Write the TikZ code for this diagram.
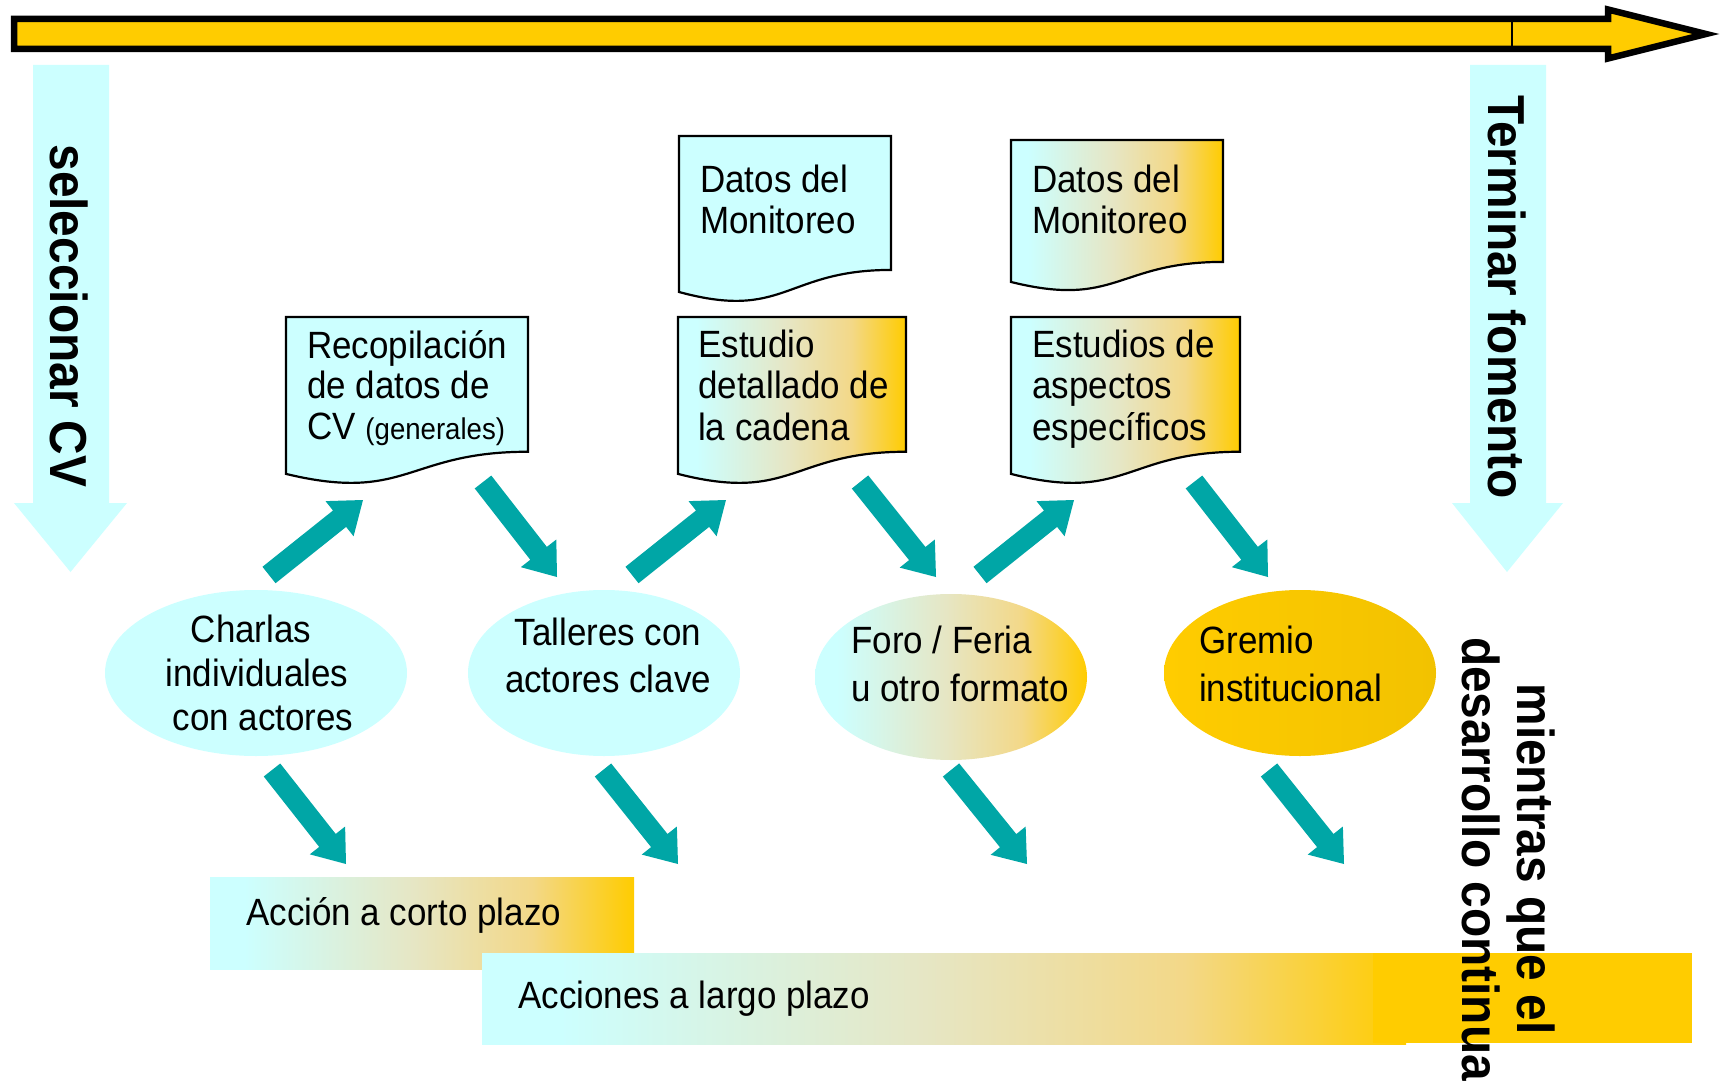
\documentclass[tikz,border=0pt]{standalone}
\usepackage{fontspec}
\newfontfamily\nar{Liberation Sans}[FakeStretch=0.92]
\usetikzlibrary{calc,shapes.geometric}
\definecolor{cy}{RGB}{204,255,255}
\definecolor{orc}{RGB}{255,204,0}
\definecolor{midc}{RGB}{230,230,196}
\definecolor{midd}{RGB}{243,216,136}
\definecolor{tealc}{RGB}{0,166,166}
\definecolor{goldr}{RGB}{242,194,0}
\pgfdeclarehorizontalshading{cygold}{100bp}{color(0bp)=(cy); color(25bp)=(cy); color(29bp)=(cy); color(49bp)=(midc); color(63bp)=(midd); color(75bp)=(orc); color(100bp)=(orc)}
\tikzset{
  docline/.style={draw=black, line width=2.2pt},
  grad/.style={shading=cygold},
  ell/.style={ellipse, draw=none, inner sep=0pt, outer sep=0pt},
  lbl/.style={font=\nar\fontsize{38}{40}\selectfont, inner sep=0pt, text=black},
  big/.style={font=\nar\bfseries\fontsize{52}{55}\selectfont, inner sep=0pt, rotate=-90, anchor=base, text=black}
}
\newcommand{\docshape}[5]{%
  \pgfmathsetmacro{\dm}{(#1+#2)/2}%
  \pgfmathsetmacro{\dya}{#3+0.802*#4}%
  \pgfmathsetmacro{\dyb}{#3+1.1075*#4}%
  \pgfmathsetmacro{\dyc}{#3+0.934*#4}%
  \draw[docline,#5] (#1,#3) -- (#2,#3) -- (#2,\dya) .. controls (\dm,\dya) and (\dm,\dyb) .. (#1,\dyc) -- cycle;}
\newcommand{\tarrow}[2]{%
  \coordinate (hb) at ($(#2)!30pt!(#1)$);
  \fill[tealc] ($(#1)!10.5pt!90:(#2)$) -- ($(hb)!10.5pt!90:(#2)$) -- ($(hb)!22.5pt!90:(#2)$) -- (#2)
     -- ($(hb)!22.5pt!-90:(#2)$) -- ($(hb)!10.5pt!-90:(#2)$) -- ($(#1)!10.5pt!-90:(#2)$) -- cycle;}
\begin{document}
\begin{tikzpicture}[x=1pt,y=-1pt]
\useasboundingbox (0,0) rectangle (1725,1081);
\fill[white] (0,0) rectangle (1725,1081);

% top timeline arrow
\draw[line width=6.5pt, fill=orc, line join=miter] (14,19) -- (1608,19) -- (1608,9.5) -- (1706,34) -- (1608,58.5) -- (1608,49) -- (14,49) -- cycle;
\draw[line width=2pt] (1512,21) -- (1512,47);

% vertical cyan arrows
\fill[cy] (33,65) -- (109,65) -- (109,503) -- (127,503) -- (70.5,572) -- (14,503) -- (33,503) -- cycle;
\fill[cy] (1470,65) -- (1546,65) -- (1546,503) -- (1563,503) -- (1507,572) -- (1452,503) -- (1470,503) -- cycle;
\node[big] (sel) at (50,316) {seleccionar CV};
\node[big] (term) at (1488,297) {Terminar fomento};

% documents
\docshape{286}{528}{317}{168}{fill=cy}
\docshape{679}{891}{136}{167}{fill=cy}
\docshape{1011}{1223}{140}{152}{grad}
\docshape{678}{906}{317}{168}{grad}
\docshape{1011}{1240}{317}{168}{grad}

\node[lbl, anchor=base west] (d1t) at (307,358) {\vtop{\baselineskip=40.7pt\hbox{Recopilación}\hbox{de datos de}\hbox{CV {\fontsize{30}{30}\selectfont(generales)}}}};
\node[lbl, anchor=base west] (d2t) at (700,192) {\vtop{\baselineskip=41pt\hbox{Datos del}\hbox{Monitoreo}}};
\node[lbl, anchor=base west] (d3t) at (1032,192) {\vtop{\baselineskip=41pt\hbox{Datos del}\hbox{Monitoreo}}};
\node[lbl, anchor=base west] (d4t) at (698,357) {\vtop{\baselineskip=41.5pt\hbox{Estudio}\hbox{detallado de}\hbox{la cadena}}};
\node[lbl, anchor=base west] (d5t) at (1032,357) {\vtop{\baselineskip=41.5pt\hbox{Estudios de}\hbox{aspectos}\hbox{específicos}}};

% ellipses
\node[ell, fill=cy, minimum width=302pt, minimum height=166pt] (e1) at (256,673) {};
\node[ell, fill=cy, minimum width=272pt, minimum height=166pt] (e2) at (604,673) {};
\node[ell, grad, minimum width=272pt, minimum height=166pt] (e3) at (951,677) {};
\node[ell, left color=orc, right color=goldr, minimum width=272pt, minimum height=166pt] (e4) at (1300,673) {};

\node[lbl, anchor=base] (t1) at (257,642) {\vtop{\baselineskip=44pt\hbox to 0pt{\hss Charlas\kern12pt\hss}\hbox to 0pt{\hss individuales\hss}\hbox to 0pt{\hss\kern12pt con actores\hss}}};
\node[lbl, anchor=base] (t2) at (608,645) {\vtop{\baselineskip=47pt\hbox to 0pt{\hss Talleres con\hss}\hbox to 0pt{\hss actores clave\hss}}};
\node[lbl, anchor=base west] (t3) at (851,653) {\vtop{\baselineskip=48pt\hbox{Foro / Feria}\hbox{u otro formato}}};
\node[lbl, anchor=base west] (t4) at (1199,653) {\vtop{\baselineskip=48pt\hbox{Gremio}\hbox{institucional}}};

% teal arrows
\coordinate (a1s) at (269,575);  \coordinate (a1e) at (363,500);
\coordinate (a2s) at (483,482);  \coordinate (a2e) at (557,577);
\coordinate (a3s) at (632,575);  \coordinate (a3e) at (726,500);
\coordinate (a4s) at (272,770);  \coordinate (a4e) at (346,864);
\coordinate (a5s) at (603,770);  \coordinate (a5e) at (678,864);
\coordinate (a6s) at (860,482);  \coordinate (a6e) at (936,577);
\coordinate (a7s) at (980,575);  \coordinate (a7e) at (1074,500);
\coordinate (a8s) at (1194,482); \coordinate (a8e) at (1268,577);
\coordinate (a9s) at (951,770);  \coordinate (a9e) at (1027,864);
\coordinate (a10s) at (1269,770); \coordinate (a10e) at (1344,864);
\tarrow{a1s}{a1e}
\tarrow{a2s}{a2e}
\tarrow{a3s}{a3e}
\tarrow{a4s}{a4e}
\tarrow{a5s}{a5e}
\tarrow{a6s}{a6e}
\tarrow{a7s}{a7e}
\tarrow{a8s}{a8e}
\tarrow{a9s}{a9e}
\tarrow{a10s}{a10e}

% bottom bars
\fill[grad] (210,877) rectangle (634,969);
\fill[grad] (482,953) rectangle (1406,1044);
\fill[orc] (1373,953) rectangle (1692,1043);
\node[lbl, anchor=base west] (b1t) at (246,925) {Acción a corto plazo};
\node[lbl, anchor=base west] (b2t) at (518,1008) {Acciones a largo plazo};

% rotated right text
\node[big] (mien) at (1517,859) {\vtop{\baselineskip=55pt\hbox to 0pt{\hss mientras que el\hss}\hbox to 0pt{\hss desarrollo continua\hss}}};
\end{tikzpicture}
\end{document}
